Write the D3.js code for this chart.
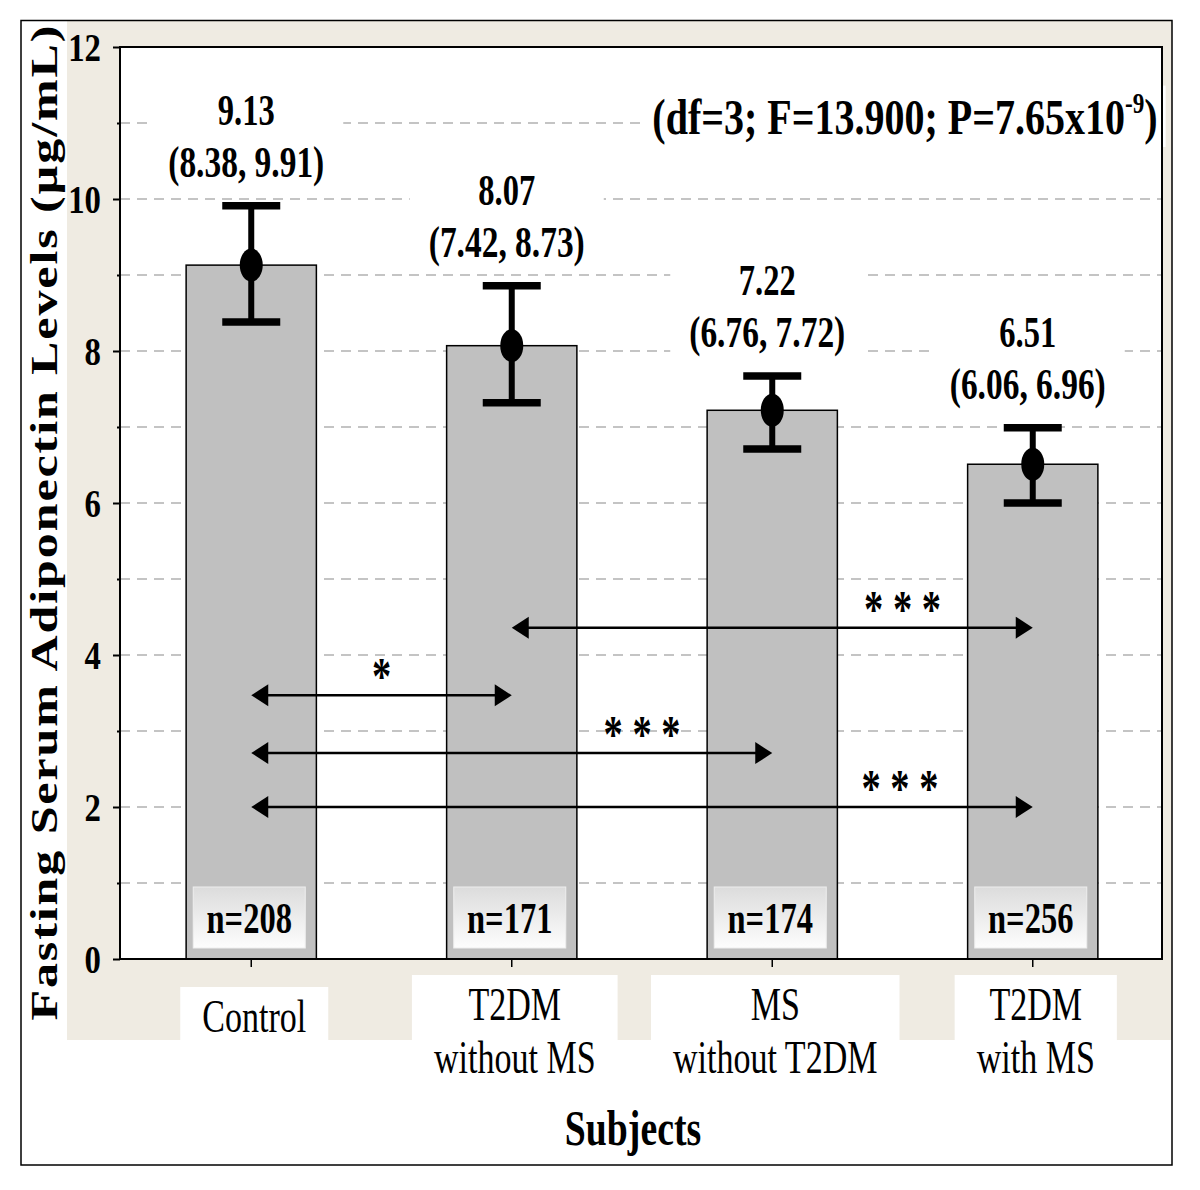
<!DOCTYPE html>
<html><head><meta charset="utf-8">
<script src="https://cdn.jsdelivr.net/npm/d3@7"></script>
<style>
body{margin:0;background:#fff}
svg{display:block}
text{font-family:"Liberation Serif","Times New Roman",serif;fill:#000}
</style>
</head><body>
<svg id="c" width="1200" height="1190"></svg>
<script>
// ---- data ----
const categories = ["Control", "T2DM without MS", "MS without T2DM", "T2DM with MS"];
const categoryLines = [["Control"], ["T2DM", "without MS"], ["MS", "without T2DM"], ["T2DM", "with MS"]];
const means = [9.13, 8.07, 7.22, 6.51];
const whiskerLow = [8.38, 7.32, 6.71, 6.00];   // as drawn
const whiskerHigh = [9.91, 8.86, 7.67, 6.99];  // as drawn
const meanLabels = ["9.13", "8.07", "7.22", "6.51"];
const ciLabels = ["(8.38, 9.91)", "(7.42, 8.73)", "(6.76, 7.72)", "(6.06, 6.96)"];
const sampleSizes = [208, 171, 174, 256];
const yTicks = [0, 2, 4, 6, 8, 10, 12];
const compFrom = [0, 0, 0, 1];
const compTo = [1, 2, 3, 3];
const compLevel = [3.47, 2.71, 2.00, 4.36];
const compStars = ["*", "* * *", "* * *", "* * *"];
const compStarAt = [0.5, 0.75, 0.83, 0.75];
const yTitle = "Fasting Serum Adiponectin Levels (\u00b5g/mL)";
const xTitle = "Subjects";

// ---- layout ----
const SX = 0.74;
const svg = d3.select("#c");
const L = 120, R = 1162, T = 47, B = 959;
const x = d3.scaleBand().domain(categories).range([121, 1163]).paddingInner(0.5).paddingOuter(0.25);
const y = d3.scaleLinear().domain([0, 12]).range([B, T]);
const cx = i => x(categories[i]) + x.bandwidth() / 2;

function addText(parent, px, py, str, size, weight, sx) {
  return parent.append("text")
    .attr("transform", `translate(${px},${py}) scale(${sx || SX},1)`)
    .attr("text-anchor", "middle")
    .attr("font-size", size).attr("font-weight", weight || "normal")
    .text(str);
}

// background
svg.append("rect").attr("width", 1200).attr("height", 1190).attr("fill", "#fff");
svg.append("rect").attr("x", 67).attr("y", 21).attr("width", 1105).attr("height", 1019).attr("fill", "#efebe2");

// x axis ticks
const xAxis = svg.append("g").attr("transform", `translate(0,${B})`)
  .call(d3.axisBottom(x).tickSize(8).tickSizeOuter(0).tickFormat(""));
xAxis.select(".domain").remove();
xAxis.selectAll("line").attr("stroke", "#000").attr("stroke-width", 1.5);

// category label boxes
categories.forEach((c, i) => {
  const g = svg.append("g");
  const lines = categoryLines[i];
  const base0 = lines.length === 1 ? 1032 : 1020;
  const box = g.append("rect").attr("fill", "#fff");
  let w = 0;
  lines.forEach((ln, k) => {
    const t = addText(g, cx(i) + 3, base0 + k * 53, ln, 46, "normal");
    w = Math.max(w, t.node().getComputedTextLength() * SX);
  });
  box.attr("x", cx(i) + 3 - w / 2 - 22).attr("y", base0 - 45).attr("width", w + 44).attr("height", 1040 - (base0 - 45));
});

// plot area
svg.append("rect").attr("x", L).attr("y", T).attr("width", R - L).attr("height", B - T).attr("fill", "#fff");

// gridlines
svg.append("g").selectAll("line").data(d3.range(1, 12)).join("line")
  .attr("x1", L).attr("x2", R).attr("y1", d => y(d)).attr("y2", d => y(d))
  .attr("stroke", "#c4c4c4").attr("stroke-width", 2).attr("stroke-dasharray", "10,7");

// bars
svg.append("g").selectAll("rect").data(means).join("rect")
  .attr("x", (d, i) => x(categories[i])).attr("width", x.bandwidth())
  .attr("y", d => y(d)).attr("height", d => B - y(d))
  .attr("fill", "#c0c0c0").attr("stroke", "#000").attr("stroke-width", 1.5);

// n boxes
const defs = svg.append("defs");
const grad = defs.append("linearGradient").attr("id", "nbox").attr("x1", 0).attr("y1", 0).attr("x2", 0).attr("y2", 1);
grad.append("stop").attr("offset", "0%").attr("stop-color", "#dcdcdc");
grad.append("stop").attr("offset", "100%").attr("stop-color", "#fdfdfd");
sampleSizes.forEach((n, i) => {
  svg.append("rect").attr("x", cx(i) - 58).attr("y", 887).attr("width", 112).attr("height", 61)
    .attr("fill", "url(#nbox)").attr("stroke", "#eeeeee").attr("stroke-width", 1);
  addText(svg, cx(i) - 2, 933, "n=" + n, 44, "bold");
});

// error bars & mean markers
const eb = svg.append("g");
means.forEach((m, i) => {
  const c = cx(i);
  eb.append("line").attr("x1", c).attr("x2", c).attr("y1", y(whiskerLow[i])).attr("y2", y(whiskerHigh[i]))
    .attr("stroke", "#000").attr("stroke-width", 6);
  [whiskerLow[i], whiskerHigh[i]].forEach(v => {
    eb.append("line").attr("x1", c - 29).attr("x2", c + 29).attr("y1", y(v)).attr("y2", y(v))
      .attr("stroke", "#000").attr("stroke-width", 7.5);
  });
  eb.append("ellipse").attr("cx", c).attr("cy", y(m)).attr("rx", 11.5).attr("ry", 16.5).attr("fill", "#000");
});

// value labels
means.forEach((m, i) => {
  const c = cx(i) - 5, top = y(whiskerHigh[i]);
  const g = svg.append("g");
  g.append("rect").attr("x", c - 97).attr("y", top - 121).attr("width", 194).attr("height", 107).attr("fill", "#fff");
  addText(g, c, top - 81, meanLabels[i], 44, "bold");
  addText(g, c, top - 29, ciLabels[i], 44, "bold", 0.76);
});

// comparison arrows
const ar = svg.append("g");
compFrom.forEach((f, k) => {
  const x1 = cx(f), x2 = cx(compTo[k]), yy = y(compLevel[k]);
  const hl = 17, hh = 11;
  ar.append("line").attr("x1", x1 + hl - 2).attr("x2", x2 - hl + 2).attr("y1", yy).attr("y2", yy)
    .attr("stroke", "#000").attr("stroke-width", 2.5);
  ar.append("path").attr("d", `M${x1},${yy}L${x1 + hl},${yy - hh}L${x1 + hl},${yy + hh}Z`).attr("fill", "#000");
  ar.append("path").attr("d", `M${x2},${yy}L${x2 - hl},${yy - hh}L${x2 - hl},${yy + hh}Z`).attr("fill", "#000");
  addText(ar, x1 + (x2 - x1) * compStarAt[k], yy - 1, compStars[k], 52, "bold");
});

// statistics annotation
const an = svg.append("g");
const anText = an.append("text")
  .attr("transform", `translate(905,134) scale(0.8,1)`).attr("text-anchor", "middle")
  .attr("font-size", 50).attr("font-weight", "bold");
anText.append("tspan").text("(df=3; F=13.900; P=7.65x10");
anText.append("tspan").attr("font-size", 29).attr("dy", -21).text("-9");
anText.append("tspan").attr("dy", 21).text(")");
const bb = an.node().getBBox();
an.insert("rect", "text").attr("x", bb.x - 8).attr("y", bb.y - 2).attr("width", bb.width + 16).attr("height", bb.height + 4).attr("fill", "#fff");

// y axis
const yAxis = svg.append("g").attr("transform", `translate(${L},0)`)
  .call(d3.axisLeft(y).tickValues(yTicks).tickSize(7).tickSizeOuter(0));
yAxis.select(".domain").remove();
yAxis.selectAll("line").attr("stroke", "#000").attr("stroke-width", 2);
yAxis.selectAll("text").attr("x", -19 / 0.82).attr("dy", "0.34em").attr("transform", `scale(0.82,1)`)
  .attr("font-size", 40).attr("font-weight", "bold").attr("font-family", "Liberation Serif").attr("fill", "#000");
const yMinor = svg.append("g").attr("transform", `translate(${L},0)`)
  .call(d3.axisLeft(y).tickValues(d3.range(1, 12, 2)).tickSize(3).tickSizeOuter(0).tickFormat(""));
yMinor.select(".domain").remove();
yMinor.selectAll("line").attr("stroke", "#000").attr("stroke-width", 2);

// plot frame
svg.append("rect").attr("x", L).attr("y", T).attr("width", R - L).attr("height", B - T)
  .attr("fill", "none").attr("stroke", "#000").attr("stroke-width", 2);

// titles
svg.append("text").attr("transform", `translate(57,523) rotate(-90) scale(1,${SX})`)
  .attr("text-anchor", "middle").attr("font-size", 50).attr("font-weight", "bold")
  .attr("textLength", 995).attr("lengthAdjust", "spacing").text(yTitle);
addText(svg, 633, 1145, xTitle, 51, "bold");

// outer frame
svg.append("rect").attr("x", 21).attr("y", 20.5).attr("width", 1151).attr("height", 1144.5)
  .attr("fill", "none").attr("stroke", "#000").attr("stroke-width", 1.5);
</script>
</body></html>
